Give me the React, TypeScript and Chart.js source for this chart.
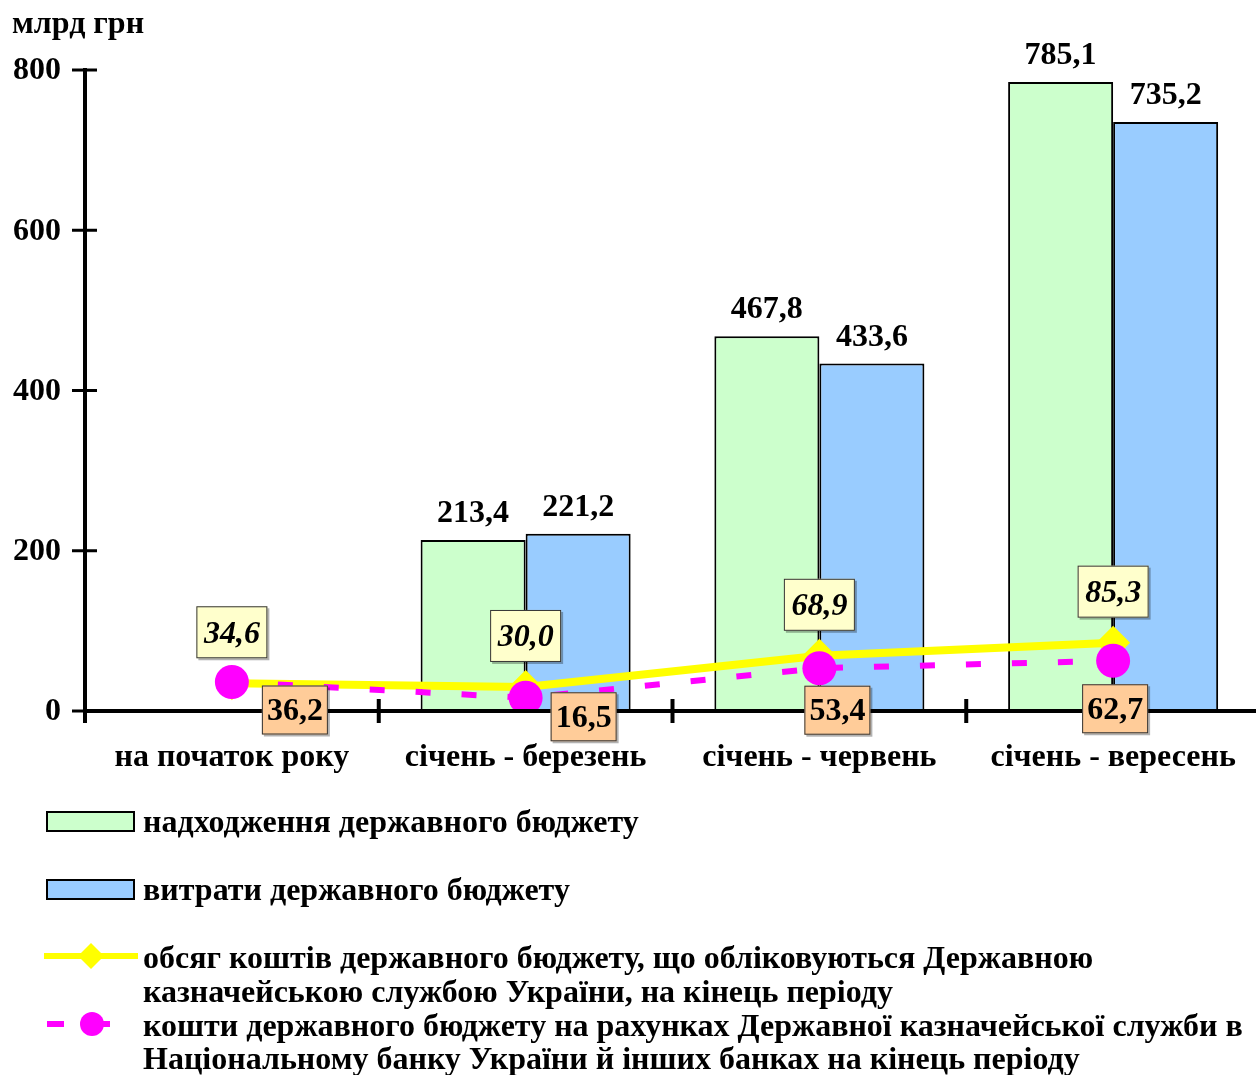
import React, { useEffect, useRef } from "react";
import { Chart, registerables } from "chart.js";

Chart.register(...registerables);

const categories = ["на початок року", "січень - березень", "січень - червень", "січень - вересень"];
const revenues: (number | null)[] = [null, 213.4, 467.8, 785.1];
const expenditures: (number | null)[] = [null, 221.2, 433.6, 735.2];
const treasuryFunds = [34.6, 30.0, 68.9, 85.3];
const bankFunds = [36.2, 16.5, 53.4, 62.7];
const yTicks = [0, 200, 400, 600, 800];
const yTitle = "млрд грн";
const seriesNames = [
  ["надходження державного бюджету"],
  ["витрати державного бюджету"],
  ["обсяг коштів державного бюджету, що обліковуються Державною", "казначейською службою України, на кінець періоду"],
  ["кошти державного бюджету на рахунках Державної казначейської служби в", "Національному банку України й інших банках на кінець періоду"],
];

// label box offsets (box centre relative to point) for the bank-funds series
const bankLabelOffsets = [
  [63, 28],
  [58, 19],
  [18, 42],
  [2, 48],
];

const FONT = "'Liberation Serif', 'Times New Roman', serif";
const GREEN = "#CCFFCC";
const BLUE = "#99CCFF";
const YELLOW = "#FFFF00";
const MAGENTA = "#FF00FF";

const fmt = (v: number) => v.toFixed(1).replace(".", ",");

function drawDiamond(ctx: CanvasRenderingContext2D, x: number, y: number, r: number) {
  ctx.beginPath();
  ctx.moveTo(x - r, y);
  ctx.lineTo(x, y - r);
  ctx.lineTo(x + r, y);
  ctx.lineTo(x, y + r);
  ctx.closePath();
  ctx.fill();
}

function labelBox(
  ctx: CanvasRenderingContext2D,
  cx: number,
  cy: number,
  text: string,
  font: string,
  bg: string,
  h: number,
  pad: number
) {
  ctx.font = font;
  const w = ctx.measureText(text).width + pad;
  ctx.fillStyle = "rgba(0,0,0,0.3)";
  ctx.fillRect(cx - w / 2 + 2, cy - h / 2 + 2, w, h);
  ctx.fillStyle = bg;
  ctx.fillRect(cx - w / 2, cy - h / 2, w, h);
  ctx.strokeStyle = "#333333";
  ctx.lineWidth = 1;
  ctx.strokeRect(cx - w / 2 + 0.5, cy - h / 2 + 0.5, w - 1, h - 1);
  ctx.fillStyle = "#000";
  ctx.textAlign = "center";
  ctx.textBaseline = "middle";
  ctx.fillText(text, cx, cy + 2);
}

const overlayPlugin = {
  id: "overlay",
  afterDatasetsDraw(chart: any) {
    const ctx: CanvasRenderingContext2D = chart.ctx;
    const x = chart.scales.x;
    const y = chart.scales.y;
    const area = chart.chartArea;
    ctx.save();

    // bar value labels
    ctx.font = `bold 32px ${FONT}`;
    ctx.fillStyle = "#000";
    ctx.textAlign = "center";
    ctx.textBaseline = "alphabetic";
    [0, 1].forEach((di) => {
      const meta = chart.getDatasetMeta(di);
      meta.data.forEach((el: any, i: number) => {
        const v = chart.data.datasets[di].data[i];
        if (v == null) return;
        ctx.fillText(fmt(v), el.x, el.y - 18);
      });
    });

    // axes
    ctx.strokeStyle = "#000";
    ctx.lineWidth = 4;
    const zeroY = y.getPixelForValue(0);
    ctx.beginPath();
    ctx.moveTo(area.left, y.getPixelForValue(800) - 2);
    ctx.lineTo(area.left, zeroY + 12);
    ctx.stroke();
    ctx.beginPath();
    ctx.moveTo(area.left, zeroY);
    ctx.lineTo(area.right, zeroY);
    ctx.stroke();
    ctx.lineWidth = 3;
    yTicks.forEach((t) => {
      const py = y.getPixelForValue(t);
      ctx.beginPath();
      ctx.moveTo(area.left - 13, py);
      ctx.lineTo(area.left + 12, py);
      ctx.stroke();
    });
    ctx.lineWidth = 4;
    for (let i = 1; i < categories.length; i++) {
      const px = (x.getPixelForValue(i - 1) + x.getPixelForValue(i)) / 2;
      ctx.beginPath();
      ctx.moveTo(px, zeroY - 12);
      ctx.lineTo(px, zeroY + 12);
      ctx.stroke();
    }

    // tick labels
    ctx.font = `bold 32px ${FONT}`;
    ctx.textAlign = "right";
    ctx.textBaseline = "middle";
    yTicks.forEach((t) => {
      ctx.fillText(String(t), 61, y.getPixelForValue(t) + 1);
    });
    ctx.textAlign = "left";
    ctx.textBaseline = "alphabetic";
    ctx.fillText(yTitle, 12, 33);

    ctx.textAlign = "center";
    categories.forEach((c, i) => {
      ctx.fillText(c, x.getPixelForValue(i), 766);
    });

    // line labels
    const m2 = chart.getDatasetMeta(2);
    m2.data.forEach((el: any, i: number) => {
      labelBox(ctx, el.x, el.y - 25 - 26, fmt(treasuryFunds[i]), `italic bold 32px ${FONT}`, "#FFFFCC", 52, 15);
    });
    const m3 = chart.getDatasetMeta(3);
    m3.data.forEach((el: any, i: number) => {
      const [dx, dy] = bankLabelOffsets[i];
      labelBox(ctx, el.x + dx, el.y + dy, fmt(bankFunds[i]), `bold 32px ${FONT}`, "#FFCC99", 49, 10);
    });

    ctx.restore();
  },
  afterDraw(chart: any) {
    const ctx: CanvasRenderingContext2D = chart.ctx;
    ctx.save();
    ctx.font = `bold 32px ${FONT}`;
    ctx.textAlign = "left";
    ctx.textBaseline = "alphabetic";
    ctx.fillStyle = GREEN;
    ctx.fillRect(47, 812, 87, 19);
    ctx.strokeStyle = "#000";
    ctx.lineWidth = 2;
    ctx.strokeRect(47, 812, 87, 19);
    ctx.fillStyle = BLUE;
    ctx.fillRect(47, 880, 87, 19);
    ctx.strokeRect(47, 880, 87, 19);
    ctx.strokeStyle = YELLOW;
    ctx.lineWidth = 6;
    ctx.beginPath();
    ctx.moveTo(44, 956);
    ctx.lineTo(138, 956);
    ctx.stroke();
    ctx.fillStyle = YELLOW;
    drawDiamond(ctx, 91, 956, 13);
    ctx.strokeStyle = MAGENTA;
    ctx.beginPath();
    ctx.moveTo(47, 1024);
    ctx.lineTo(64, 1024);
    ctx.moveTo(92, 1024);
    ctx.lineTo(110, 1024);
    ctx.stroke();
    ctx.fillStyle = MAGENTA;
    ctx.beginPath();
    ctx.arc(92, 1024, 12, 0, Math.PI * 2);
    ctx.fill();

    ctx.fillStyle = "#000";
    const rows = [[832], [900], [968, 1002], [1036, 1069]];
    seriesNames.forEach((lines, i) => {
      lines.forEach((t, j) => ctx.fillText(t, 143, rows[i][j]));
    });
    ctx.restore();
  },
};

export default function App() {
  const ref = useRef<HTMLCanvasElement>(null);
  useEffect(() => {
    document.body.style.margin = "0";
    document.body.style.overflow = "hidden";
    const chart = new Chart(ref.current!, {
      type: "bar",
      data: {
        labels: categories,
        datasets: [
          {
            type: "bar",
            label: seriesNames[0][0],
            data: revenues,
            backgroundColor: GREEN,
            borderColor: "#000",
            borderWidth: 2,
            order: 3,
          } as any,
          {
            type: "bar",
            label: seriesNames[1][0],
            data: expenditures,
            backgroundColor: BLUE,
            borderColor: "#000",
            borderWidth: 2,
            order: 3,
          },
          {
            type: "line",
            label: seriesNames[2][0],
            data: treasuryFunds,
            borderColor: YELLOW,
            borderWidth: 8,
            backgroundColor: YELLOW,
            pointStyle: "rectRot",
            pointRadius: 17,
            pointBorderWidth: 0,
            pointBackgroundColor: YELLOW,
            order: 2,
          },
          {
            type: "line",
            label: seriesNames[3][0],
            data: bankFunds,
            borderColor: MAGENTA,
            borderWidth: 6,
            borderDash: [15, 31],
            backgroundColor: MAGENTA,
            pointStyle: "circle",
            pointRadius: 17,
            pointBorderWidth: 0,
            pointBackgroundColor: MAGENTA,
            order: 1,
          },
        ],
      },
      options: {
        responsive: false,
        animation: false,
        layout: { autoPadding: false, padding: { left: 85, right: 0, top: 70, bottom: 364 } },
        plugins: { legend: { display: false }, tooltip: { enabled: false } },
        datasets: { bar: { categoryPercentage: 0.715, barPercentage: 1 } },
        scales: {
          x: { display: false, grid: { display: false } },
          y: { display: false, min: 0, max: 800, grid: { display: false } },
        },
      },
      plugins: [overlayPlugin],
    });
    return () => chart.destroy();
  }, []);
  return (
    <div style={{ width: 1256, height: 1075, overflow: "hidden", position: "relative", background: "#fff" }}>
      <canvas ref={ref} width={1260} height={1075} style={{ display: "block" }} />
    </div>
  );
}
